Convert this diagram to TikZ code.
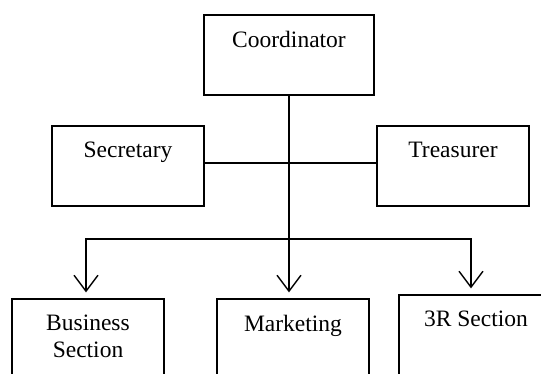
\documentclass[tikz,border=0pt]{standalone}
\usepackage{fontspec}
\setmainfont{Liberation Serif}
\usetikzlibrary{arrows.meta}
\tikzset{
    box/.style={draw=black, line width=1.2pt, minimum width=152pt, minimum height=80pt, inner sep=0pt},
    lbl/.style={anchor=north, inner sep=0pt, align=center, font=\fontsize{23.5}{27}\selectfont},
    link/.style={line width=1.3pt},
    arr/.style={line width=1.3pt, -{Straight Barb[length=16pt,width=24pt,line width=1.4pt]}, shorten >=6pt}
}
\begin{document}
\begin{tikzpicture}[x=1pt, y=1pt]
                \useasboundingbox (0,0) rectangle (541,-374);
                \clip (0,0) rectangle (541,-374);
                \node[box, minimum width=170pt] (coord) at (289,-55) {};
                \node[box] (sec) at (128,-166) {};
                \node[box] (tre) at (453,-166) {};
                \node[box] (bus) at (88,-339) {};
                \node[box] (mkt) at (293,-339) {};
                \node[box, minimum width=154pt] (thr) at (476,-335) {};
                \foreach \b/\t in {coord/Coordinator, sec/Secretary, tre/Treasurer, bus/{Business\\Section}, mkt/Marketing, thr/3R Section}
                {
                    \node[lbl] (\b txt) at ([yshift=-16.5pt]\b.north) {\t};
                }
                \coordinate (split) at ([yshift=-143.5pt]coord.south);
                \draw[link] ([yshift=3pt]sec.east) -- ([yshift=3pt]tre.west);
                \draw[arr] (coord.south) -- (coord.south |- mkt.north);
                \draw[arr] (split) -| ([xshift=-2pt]bus.north);
                \draw[arr] (split) -| ([xshift=-5pt]thr.north);
                
            \end{tikzpicture}
\end{document}
